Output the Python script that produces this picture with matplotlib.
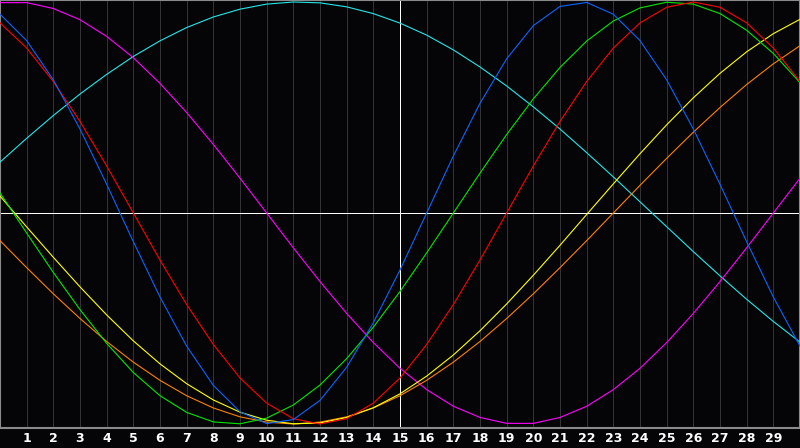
import numpy as np
import matplotlib
matplotlib.use("Agg")
import matplotlib.pyplot as plt

days = np.arange(0, 31)
tick_days = list(range(1, 30))

# curve values per day 0..30
blue = [0.942, 0.817, 0.631, 0.398, 0.136, -0.136, -0.398, -0.631, -0.817, -0.942,
        -0.998, -0.979, -0.888, -0.731, -0.520, -0.270, 0.0, 0.270, 0.520, 0.731,
        0.888, 0.979, 0.998, 0.942, 0.817, 0.631, 0.398, 0.136, -0.136, -0.398, -0.631]
red = [0.901, 0.782, 0.623, 0.434, 0.223, 0.0, -0.223, -0.434, -0.623, -0.782,
       -0.901, -0.975, -1.0, -0.975, -0.901, -0.782, -0.623, -0.434, -0.223, 0.0,
       0.223, 0.434, 0.623, 0.782, 0.901, 0.975, 1.0, 0.975, 0.901, 0.782, 0.623]
green = [0.095, -0.095, -0.282, -0.458, -0.618, -0.756, -0.866, -0.945, -0.990, -0.999,
         -0.972, -0.910, -0.815, -0.690, -0.541, -0.372, -0.189, 0.0, 0.189, 0.372,
         0.541, 0.690, 0.815, 0.910, 0.972, 0.999, 0.990, 0.945, 0.866, 0.756, 0.618]
magenta = [0.997, 0.997, 0.969, 0.916, 0.837, 0.736, 0.614, 0.476, 0.325, 0.165,
           0.0, -0.165, -0.325, -0.476, -0.614, -0.736, -0.837, -0.916, -0.969, -0.997,
           -0.997, -0.969, -0.916, -0.837, -0.736, -0.614, -0.476, -0.325, -0.165, 0.0, 0.165]
cyan = [0.241, 0.354, 0.462, 0.564, 0.657, 0.742, 0.816, 0.879, 0.929, 0.966,
        0.990, 1.0, 0.996, 0.977, 0.945, 0.900, 0.843, 0.773, 0.692, 0.602,
        0.503, 0.398, 0.286, 0.171, 0.053, -0.065, -0.183, -0.298, -0.409, -0.514, -0.612]
yellow = [0.080, -0.066, -0.210, -0.350, -0.483, -0.606, -0.715, -0.809, -0.886, -0.944,
          -0.982, -0.999, -0.995, -0.969, -0.923, -0.857, -0.773, -0.673, -0.558, -0.431,
          -0.295, -0.153, -0.007, 0.138, 0.281, 0.418, 0.546, 0.662, 0.764, 0.850, 0.918]
orange = [-0.131, -0.259, -0.383, -0.500, -0.609, -0.707, -0.793, -0.866, -0.924, -0.966,
          -0.991, -1.0, -0.991, -0.966, -0.924, -0.866, -0.793, -0.707, -0.609, -0.500,
          -0.383, -0.259, -0.131, 0.0, 0.131, 0.259, 0.383, 0.500, 0.609, 0.707, 0.793]

px = 0.72  # one pixel at 100 dpi

fig = plt.figure(figsize=(8, 4.48), dpi=100, facecolor="#050508")
ax = fig.add_axes([0, 20 / 448, 1, 428 / 448])
ax.set_facecolor("#050508")

ax.set_xlim(0, 30)
ax.set_ylim(-215 / 211, 213 / 211)

for d in tick_days:
    if d != 15:
        ax.axvline(d, color="#333333", lw=px, zorder=1)
ax.axvline(15, color="white", lw=px, antialiased=False, zorder=2)
ax.axhline(0, color="white", lw=px, antialiased=False, zorder=2)

curves = [(cyan, "#22e6e6"), (magenta, "#ff00ff"), (orange, "#ff8000"),
          (yellow, "#ffff00"), (green, "#00e600"), (red, "#ff0000"), (blue, "#0a64ff")]
for vals, col in curves:
    ax.plot(days, vals, color=col, lw=0.8, zorder=3)

ax.set_xticks(tick_days)
ax.set_xticklabels([str(d) for d in tick_days], color="white",
                   fontweight="bold", fontsize=9)
ax.tick_params(axis="x", length=0, pad=3)
ax.set_yticks([])
for s in ax.spines.values():
    s.set_color("#8a8a8a")
    s.set_linewidth(1.5)

fig.savefig("out.png", dpi=100, facecolor=fig.get_facecolor())
